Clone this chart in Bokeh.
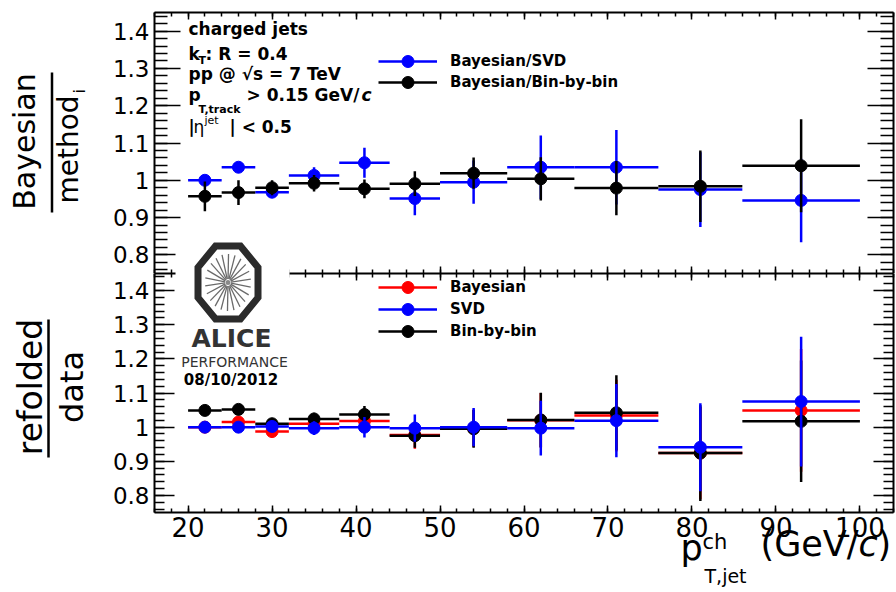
import math
from bokeh.plotting import figure
from bokeh.models import (Range1d, LinearAxis, FixedTicker, CustomJSTickFormatter,
                          Legend, LegendItem, ColumnDataSource)
from bokeh.layouts import column, row
from bokeh.embed import file_html
from bokeh.resources import INLINE
from bokeh.core.properties import value

FONT = "DejaVu Sans"

# ---------------- data ----------------
bin_low = [20, 24, 28, 32, 38, 44, 50, 58, 66, 76, 86]
bin_high = [24, 28, 32, 38, 44, 50, 58, 66, 76, 86, 100]
pt_center = [22, 26, 30, 35, 41, 47, 54, 62, 71, 81, 93]

# top panel: Bayesian / method_i
top_svd = [1.000, 1.035, 0.968, 1.013, 1.047, 0.951, 0.995, 1.035, 1.035, 0.975, 0.946]
top_svd_err = [0.005, 0.008, 0.012, 0.022, 0.040, 0.045, 0.058, 0.085, 0.100, 0.100, 0.112]
top_bbb = [0.957, 0.967, 0.980, 0.992, 0.977, 0.991, 1.019, 1.004, 0.979, 0.984, 1.039]
top_bbb_err = [0.040, 0.033, 0.020, 0.022, 0.025, 0.033, 0.042, 0.058, 0.073, 0.096, 0.125]

# bottom panel: refolded / data
bot_bay = [1.000, 1.015, 0.987, 1.010, 1.018, 0.977, 0.997, 1.020, 1.034, 0.924, 1.049]
bot_bay_err = [0.003, 0.008, 0.012, 0.018, 0.025, 0.040, 0.055, 0.080, 0.105, 0.135, 0.180]
bot_svd = [1.000, 1.000, 1.002, 0.997, 1.000, 0.997, 1.000, 0.997, 1.019, 0.941, 1.075]
bot_svd_err = [0.003, 0.006, 0.012, 0.020, 0.030, 0.040, 0.056, 0.080, 0.107, 0.129, 0.190]
bot_bbb = [1.049, 1.052, 1.010, 1.024, 1.037, 0.975, 0.995, 1.021, 1.042, 0.924, 1.017]
bot_bbb_err = [0.004, 0.006, 0.012, 0.018, 0.025, 0.035, 0.055, 0.080, 0.110, 0.140, 0.178]

x_major_ticks = [20, 30, 40, 50, 60, 70, 80, 90, 100]
x_minor_ticks = list(range(16, 105, 2))
y_major_ticks = [0.8, 0.9, 1.0, 1.1, 1.2, 1.3, 1.4]
y_minor_ticks = [round(0.76 + 0.02 * i, 2) for i in range(35)]

X0, X1 = 16, 104
Y0, Y1 = 0.75, 1.45

# ---------------- geometry (page px) ----------------
W, H = 896, 592
FRAME_L, FRAME_R = 154, 893
TOP_T, TOP_B = 12, 273
BOT_B = 512

BLUE = "#0000ff"
RED = "#ff0000"
BLACK = "#000000"


def make_fig(height, top_border, bottom_border):
    f = figure(width=W, height=height, x_range=Range1d(X0, X1), y_range=Range1d(Y0, Y1),
               output_backend="svg", toolbar_location=None, title=None,
               min_border_left=FRAME_L, min_border_right=W - FRAME_R,
               min_border_top=top_border, min_border_bottom=bottom_border)
    f.xgrid.visible = False
    f.ygrid.visible = False
    f.outline_line_color = None
    f.background_fill_color = "white"
    f.border_fill_color = "white"
    return f


def style_axis(ax, ticks, minor, tin, tmin, show_labels, size=22, standoff=5):
    ax.ticker = FixedTicker(ticks=ticks, minor_ticks=minor)
    ax.major_tick_in = tin
    ax.major_tick_out = 0
    ax.minor_tick_in = tmin
    ax.minor_tick_out = 0
    ax.axis_line_width = 2
    ax.axis_line_color = "black"
    ax.major_tick_line_color = "black"
    ax.minor_tick_line_color = "black"
    ax.major_tick_line_width = 1.5
    ax.minor_tick_line_width = 1.5
    ax.axis_label = None
    ax.axis_label_standoff = 0
    if show_labels:
        ax.major_label_text_font = FONT
        ax.major_label_text_font_size = f"{size}px"
        ax.major_label_text_color = "black"
        ax.major_label_standoff = standoff
    else:
        ax.major_label_text_font_size = "0px"
        ax.major_label_text_color = None
        ax.major_label_standoff = 0


yfmt = CustomJSTickFormatter(code="return String(parseFloat(tick.toFixed(2)))")


def setup_axes(f, ytick_in, yminor_in, bottom_labels):
    style_axis(f.yaxis[0], y_major_ticks, y_minor_ticks, ytick_in, yminor_in, True, 23, 5)
    f.yaxis[0].formatter = yfmt
    style_axis(f.xaxis[0], x_major_ticks, x_minor_ticks, 7, 4, bottom_labels, 26, 4)
    ra = LinearAxis()
    style_axis(ra, y_major_ticks, y_minor_ticks, ytick_in, yminor_in, False)
    f.add_layout(ra, "right")
    ta = LinearAxis()
    style_axis(ta, x_major_ticks, x_minor_ticks, 7, 4, False)
    f.add_layout(ta, "above")


def draw_series(f, vals, errs, color):
    src = ColumnDataSource(dict(
        x=pt_center, lo=bin_low, hi=bin_high, y=vals,
        ylo=[v - e for v, e in zip(vals, errs)],
        yhi=[v + e for v, e in zip(vals, errs)]))
    h = f.segment(x0="lo", x1="hi", y0="y", y1="y", source=src, line_color=color, line_width=2.5)
    f.segment(x0="x", x1="x", y0="ylo", y1="yhi", source=src, line_color=color, line_width=2.5)
    s = f.scatter(x="x", y="y", source=src, size=12, marker="circle",
                  fill_color=color, line_color=color)
    return h, s


def legend_row(f, frame_bottom, label, renderers, row_center_py):
    leg = Legend(items=[LegendItem(label=label, renderers=renderers)],
                 location=(378 - FRAME_L, round(frame_bottom - row_center_py - 15)),
                 orientation="vertical", glyph_width=59, glyph_height=30, label_height=30,
                 label_standoff=13, padding=0, margin=0, spacing=0,
                 border_line_color=None, background_fill_alpha=0,
                 label_text_font=FONT, label_text_font_style="bold",
                 label_text_font_size="15px", label_text_color="black",
                 label_text_baseline="middle")
    f.add_layout(leg)


# ---------------- top panel ----------------
H1 = TOP_B
top = make_fig(H1, TOP_T, 0)
setup_axes(top, 26, 13, False)
hb, sb = draw_series(top, top_svd, top_svd_err, BLUE)
hk, sk = draw_series(top, top_bbb, top_bbb_err, BLACK)
legend_row(top, TOP_B, "Bayesian/SVD", [hb, sb], 60.7)
legend_row(top, TOP_B, "Bayesian/Bin-by-bin", [hk, sk], 81.7)

# ---------------- bottom panel ----------------
H2 = H - H1
bot = make_fig(H2, 0, H - BOT_B)
setup_axes(bot, 20, 10, True)
hr, sr = draw_series(bot, bot_bay, bot_bay_err, RED)
hk2, sk2 = draw_series(bot, bot_bbb, bot_bbb_err, BLACK)
hb2, sb2 = draw_series(bot, bot_svd, bot_svd_err, BLUE)
legend_row(bot, BOT_B, "Bayesian", [hr, sr], 286.7)
legend_row(bot, BOT_B, "SVD", [hb2, sb2], 309)
legend_row(bot, BOT_B, "Bin-by-bin", [hk2, sk2], 330.7)

# ---------------- overlay (titles, notes, logo), page pixel coordinates ----------------
ov = figure(width=W, height=H, x_range=Range1d(0, W), y_range=Range1d(0, H),
            output_backend="svg", toolbar_location=None, title=None,
            min_border=0, min_border_left=0, min_border_right=0,
            min_border_top=0, min_border_bottom=0,
            margin=(0, 0, 0, -W))
ov.below = []
ov.left = []
ov.above = []
ov.right = []
ov.center = []
ov.outline_line_color = None
ov.background_fill_color = None
ov.border_fill_color = None

BASE_SHIFT = 0.4  # em offset correction so that py is the visual baseline


def otext(text, px, py, size, style="normal", align="left", angle=0.0, color="black"):
    if angle == 0.0:
        x, y = px, py - BASE_SHIFT * size
    else:
        x, y = px - BASE_SHIFT * size, py
    ov.text(x=[x], y=[H - y], text=[text], text_font=value(FONT),
            text_font_size=f"{size}px", text_font_style=style, text_color=color,
            text_align=align, text_baseline="alphabetic", angle=angle)


def oline(x0, y0, x1, y1, width=2.5, color="black"):
    ov.segment(x0=[x0], y0=[H - y0], x1=[x1], y1=[H - y1], line_color=color,
               line_width=width)


# y-axis titles as fractions
otext("Bayesian", 36, 141, 30, align="center", angle=math.pi / 2)
oline(51.5, 72, 51.5, 212)
otext("method", 79, 149, 28, align="center", angle=math.pi / 2)
otext("i", 85, 93, 16, angle=math.pi / 2)

otext("refolded", 43.5, 386.5, 33, align="center", angle=math.pi / 2)
oline(48, 319, 48, 457)
otext("data", 84, 386.5, 32, align="center", angle=math.pi / 2)

# x-axis title
otext("p", 680, 561, 35)
otext("ch", 702, 550, 21)
otext("T,jet", 704, 583, 19)
otext("(GeV/", 760, 557, 35)
otext("c", 858, 557, 35, "italic")
otext(")", 877, 557, 35)

# top-left description
otext("charged jets", 188, 35.5, 17, "bold")
otext("k", 188, 60, 17, "bold")
otext("T", 198, 64, 11, "bold")
otext(": R = 0.4", 205, 60, 17, "bold")
otext("pp @ \u221As = 7 TeV", 188, 80, 17, "bold")
otext("p", 188, 101, 17, "bold")
otext("T,track", 198, 113, 11, "bold")
otext("> 0.15 GeV/", 246, 101, 17, "bold")
otext("c", 361, 101, 17, "bold italic")
otext("|", 188, 133, 17, "bold")
otext("\u03B7", 193, 133, 17)
otext("jet", 204, 124, 11)
otext("| < 0.5", 229, 133, 17, "bold")

# ALICE performance logo
ov.quad(left=[175], right=[289], top=[H - 234], bottom=[H - 392],
        fill_color="white", line_color=None)
cx, cy = 227.5, 282.0
rx, ry = 30.0 / math.cos(math.pi / 8), 36.5 / math.cos(math.pi / 8)
angs = [math.pi / 8 + k * math.pi / 4 for k in range(8)]
ov.patch([cx + rx * math.cos(a) for a in angs], [H - (cy - ry * math.sin(a)) for a in angs],
         fill_color="white", line_color="#2b2b2b", line_width=7, line_join="miter")
n = 22
sa = [2 * math.pi * k / n + 0.12 for k in range(n)]
ov.segment(x0=[cx + 3 * math.cos(a) for a in sa], y0=[H - (cy - 3.6 * math.sin(a)) for a in sa],
           x1=[cx + 23 * math.cos(a) for a in sa], y1=[H - (cy - 28.5 * math.sin(a)) for a in sa],
           line_color="#6a6a6a", line_width=1.3)
ov.scatter(x=[cx], y=[H - cy], size=5, fill_color="#888888", line_color=None)
otext("ALICE", 231, 348, 25, "bold", align="center", color="#333333")
otext("PERFORMANCE", 234, 367, 14, align="center", color="#333333")
otext("08/10/2012", 230.5, 385, 15, "bold", align="center")

layout = row(column(top, bot, spacing=0), ov, spacing=0)
open("out.html", "w").write(file_html(layout, INLINE))
